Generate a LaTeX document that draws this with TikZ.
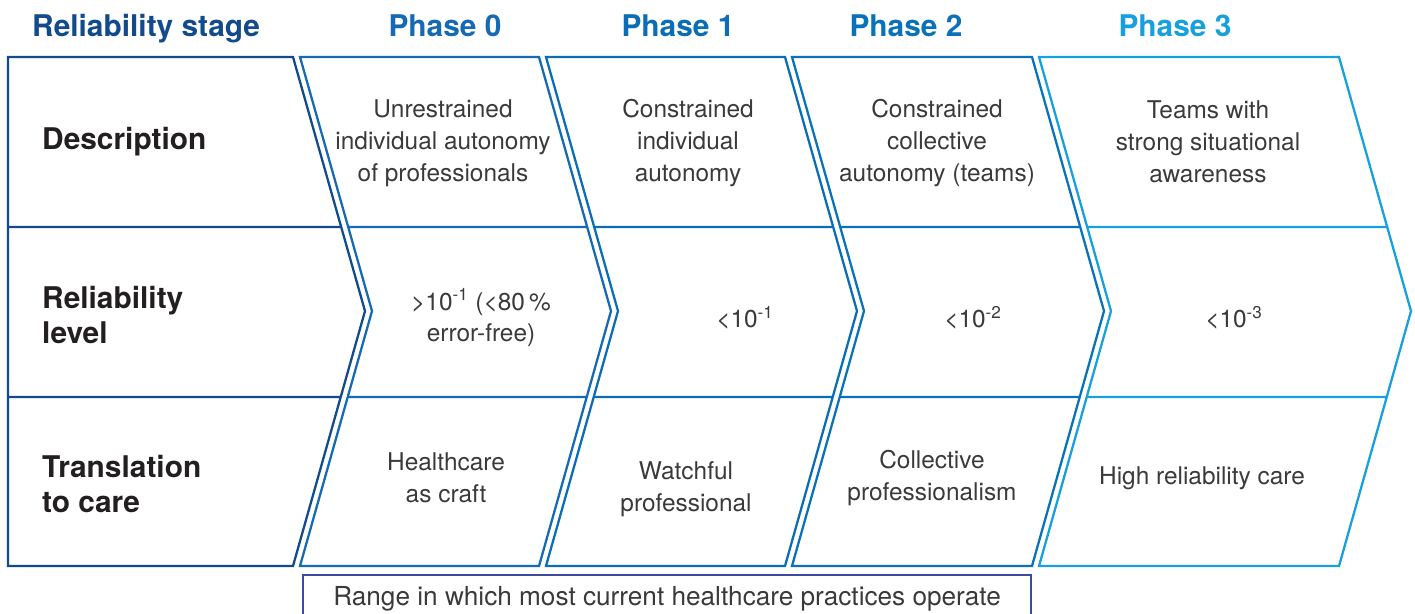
\documentclass[tikz,border=0pt]{standalone}
\usepackage{fontspec}
\setmainfont{TeX Gyre Heros}

\definecolor{stageblue}{HTML}{124B8C}
\definecolor{phasezero}{HTML}{1669B3}
\definecolor{phaseone}{HTML}{0B6DB5}
\definecolor{phasetwo}{HTML}{0A72B8}
\definecolor{phasethree}{HTML}{18A0DC}
\definecolor{rangeblue}{HTML}{3C4BA0}
\definecolor{headgray}{HTML}{231F20}
\definecolor{bodygray}{HTML}{3A3A3A}

\tikzset{
  frame/.style={line width=1.3pt, line join=miter},
  colhead/.style={font=\bfseries\fontsize{17}{20}\selectfont, anchor=base},
  rowhead/.style={font=\bfseries\fontsize{17}{20.4}\selectfont, text=headgray,
    align=left, anchor=west},
  cell/.style={font=\fontsize{13.9}{18.1}\selectfont, text=bodygray, align=center},
}

\begin{document}
\begin{tikzpicture}[x=0.02cm, y=-0.02cm]
  \useasboundingbox (0,0) rectangle (1415,613);

  % headings along the top
  \node[colhead, anchor=base west, text=stageblue] (stage) at (26,36) {Reliability stage};
  \node[colhead, text=phasezero] (ph0) at (445,36) {Phase 0};
  \node[colhead, text=phaseone] (ph1) at (678,36) {Phase 1};
  \node[colhead, text=phasetwo] (ph2) at (906,36) {Phase 2};
  \node[colhead, text=phasethree] (ph3) at (1175,36) {Phase 3};

  % chevron columns, one per stage
  \draw[frame, stageblue]
    (8,57) -- (293,57) -- (365,311) -- (293,566) -- (8,566) -- cycle
    (8,227) -- (341,227) (8,397) -- (341,397);
  \draw[frame, phasezero]
    (300,57) -- (539,57) -- (611,311) -- (539,566) -- (300,566) -- (372,311) -- cycle
    (348,227) -- (587,227) (348,397) -- (587,397);
  \draw[frame, phaseone]
    (546,57) -- (785,57) -- (857,311) -- (785,566) -- (546,566) -- (618,311) -- cycle
    (594,227) -- (833,227) (594,397) -- (833,397);
  \draw[frame, phasetwo]
    (792,57) -- (1032,57) -- (1104,311) -- (1032,566) -- (792,566) -- (864,311) -- cycle
    (840,227) -- (1080,227) (840,397) -- (1080,397);
  \draw[frame, phasethree]
    (1039,57) -- (1339,57) -- (1411,311) -- (1339,566) -- (1039,566) -- (1111,311) -- cycle
    (1087,227) -- (1387,227) (1087,397) -- (1387,397);

  % row labels
  \node[rowhead] (desc) at (36,142) {Description};
  \node[rowhead] (level) at (36,315) {Reliability\\level};
  \node[rowhead] (care) at (36,484) {Translation\\to care};

  % description row
  \node[cell] (d0) at (443,143) {Unrestrained\\individual autonomy\\of professionals};
  \node[cell] (d1) at (688,143) {Constrained\\individual\\autonomy};
  \node[cell] (d2) at (937,143) {Constrained\\collective\\autonomy (teams)};
  \node[cell] (d3) at (1208,142) {Teams with\\strong situational\\awareness};

  % reliability level row
  \node[cell] (r0) at (481,318) {>10\textsuperscript{-1} (<80\,\%\\error-free)};
  \node[cell] (r1) at (745,318) {<10\textsuperscript{-1}};
  \node[cell] (r2) at (973,318) {<10\textsuperscript{-2}};
  \node[cell] (r3) at (1234,318) {<10\textsuperscript{-3}};

  % translation to care row
  \node[cell] (t0) at (446,478) {Healthcare\\as craft};
  \node[cell] (t1) at (686,489) {Watchful\\professional};
  \node[cell] (t2) at (932,478) {Collective\\professionalism};
  \node[cell] (t3) at (1202,478) {High reliability care};

  % where current practice sits
  \node[cell, draw=rangeblue, line width=1.3pt, anchor=north west,
    minimum width=14.56cm, minimum height=0.94cm, font=\fontsize{14.9}{18}\selectfont]
    (range) at (302,574) {Range in which most current healthcare practices operate};
\end{tikzpicture}
\end{document}
